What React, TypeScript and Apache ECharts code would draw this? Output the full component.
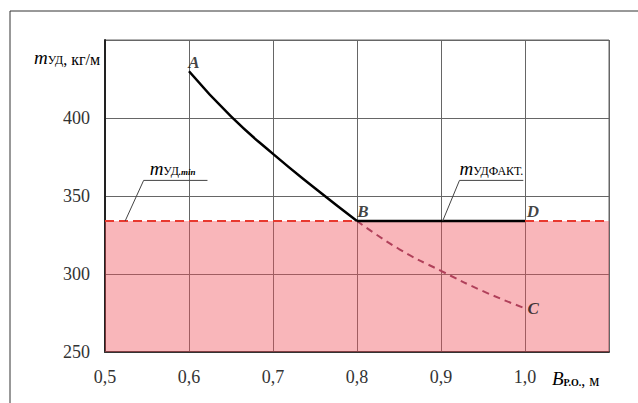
import React, { useEffect, useRef } from "react";
import * as echarts from "echarts";

const xMin = 0.5;
const xMax = 1.1;
const xStep = 0.1;
const yMin = 250;
const yMax = 450;
const yStep = 50;

const curveAB_x = [0.6, 0.65, 0.7, 0.75, 0.8];
const curveAB_y = [430, 401, 377, 355, 334];
const lineBD_x = [0.8, 0.9, 1.0];
const lineBD_y = [334, 334, 334];
const curveBC_x = [0.8, 0.85, 0.9, 0.95, 1.0];
const curveBC_y = [334, 316, 302, 289, 278];
const mMin = 334;

const pointNames = ["A", "B", "C", "D"];
const pointX = [0.6, 0.8, 1.0, 1.0];
const pointY = [430, 334, 278, 334];

const SERIF = "'Liberation Serif', 'Times New Roman', serif";
const TXT = "#333";

export default function App() {
  const ref = useRef<HTMLDivElement>(null);
  useEffect(() => {
    if (!ref.current) return;
    const chart = echarts.init(ref.current, null, { renderer: "svg" });
    const ptPos: any[] = ["top", "top", "right", "top"];
    const ptOff = [
      [5, 5],
      [6, 5],
      [-3, 0],
      [8, 5],
    ];
    const pts = pointNames.map((n, i) => ({
      value: [pointX[i], pointY[i]],
      name: n,
      label: {
        show: true,
        formatter: n,
        position: ptPos[i],
        offset: ptOff[i],
        fontFamily: SERIF,
        fontStyle: "italic",
        fontWeight: "bold",
        fontSize: 17,
        color: "#111",
      },
    }));
    chart.setOption({
      animation: false,
      textStyle: { fontFamily: SERIF },
      grid: {
        left: 105,
        top: 40,
        right: 29,
        bottom: 51,
        show: true,
        borderColor: "#666",
        borderWidth: 1,
      },
      xAxis: {
        type: "value",
        min: xMin,
        max: xMax,
        interval: xStep,
        axisLine: { show: true, onZero: false, lineStyle: { color: "#333", width: 2 } },
        axisTick: { show: false },
        splitLine: { show: true, lineStyle: { color: "#666", width: 1 } },
        axisLabel: {
          margin: 16,
          fontFamily: SERIF,
          fontSize: 18,
          color: TXT,
          formatter: (v: number) => (v > 1.05 ? "" : v.toFixed(1).replace(".", ",")),
        },
      },
      yAxis: {
        type: "value",
        min: yMin,
        max: yMax,
        interval: yStep,
        axisLine: { show: true, lineStyle: { color: "#222", width: 2 } },
        axisTick: { show: false },
        splitLine: { show: true, lineStyle: { color: "#666", width: 1 } },
        axisLabel: {
          margin: 15,
          fontFamily: SERIF,
          fontSize: 18,
          color: TXT,
          formatter: (v: number) => (v >= yMax ? "" : String(v)),
        },
      },
      series: [
        {
          type: "line",
          data: [
            [xMin, mMin],
            [xMax, mMin],
          ],
          symbol: "none",
          z: 3,
          lineStyle: { color: "#E8392F", width: 2, type: [9, 5] },
          markArea: {
            silent: true,
            itemStyle: { color: "rgba(240,80,90,0.42)" },
            data: [[{ yAxis: yMin }, { yAxis: mMin }]],
          },
        },
        {
          type: "line",
          data: curveBC_x.map((x, i) => [x, curveBC_y[i]]),
          smooth: 0.5,
          symbol: "none",
          z: 4,
          lineStyle: { color: "#B0405A", width: 2, type: [7, 5] },
        },
        {
          type: "line",
          data: curveAB_x.map((x, i) => [x, curveAB_y[i]]),
          smooth: 0.5,
          symbol: "none",
          z: 5,
          lineStyle: { color: "#000", width: 2.5 },
        },
        {
          type: "line",
          data: lineBD_x.map((x, i) => [x, lineBD_y[i]]),
          symbol: "none",
          z: 5,
          lineStyle: { color: "#000", width: 2.5 },
        },
        {
          type: "scatter",
          data: pts,
          symbolSize: 1,
          itemStyle: { color: "transparent" },
          z: 6,
        },
      ],
    });

    const px = (x: number, y: number) => chart.convertToPixel({ gridIndex: 0 }, [x, y]) as number[];
    const l1a = px(0.524, mMin);
    const l1b = px(0.546, 360);
    const l1c = px(0.622, 360);
    const l2a = px(0.902, mMin);
    const l2b = px(0.922, 360);
    const l2c = px(0.998, 360);

    const rich = {
      m: { fontFamily: SERIF, fontStyle: "italic", fontSize: 19, color: TXT, verticalAlign: "bottom" },
      s: { fontFamily: SERIF, fontSize: 12, color: TXT, verticalAlign: "bottom", padding: [0, 0, 1, 0] },
      p: { fontFamily: SERIF, fontWeight: "bold", fontSize: 10, color: TXT, verticalAlign: "bottom", padding: [0, 0, 1, 0] },
      t: { fontFamily: SERIF, fontStyle: "italic", fontWeight: "bold", fontSize: 9, color: TXT, verticalAlign: "bottom", padding: [0, 0, 2, 0] },
      n: { fontFamily: SERIF, fontSize: 16, color: TXT, verticalAlign: "bottom" },
    };

    chart.setOption({
      graphic: [
        {
          type: "rect",
          shape: { x: 10, y: 11, width: 700, height: 500 },
          style: { fill: "none", stroke: "#333", lineWidth: 1 },
          silent: true,
        },
        {
          type: "polyline",
          shape: { points: [l1a, l1b, l1c] },
          style: { fill: "none", stroke: "#444", lineWidth: 1 },
          z: 10,
        },
        {
          type: "polyline",
          shape: { points: [l2a, l2b, l2c] },
          style: { fill: "none", stroke: "#444", lineWidth: 1 },
          z: 10,
        },
        {
          type: "text",
          x: l1b[0] + 6,
          y: l1b[1] - 2,
          style: { text: "{m|m}{s|УД}{t|.min}", rich, textAlign: "left", textVerticalAlign: "bottom" },
          z: 10,
        },
        {
          type: "text",
          x: l2b[0],
          y: l2b[1] - 2,
          style: { text: "{m|m}{s|УДФАКТ.}", rich, textAlign: "left", textVerticalAlign: "bottom" },
          z: 10,
        },
        {
          type: "text",
          x: 34,
          y: 67,
          style: { text: "{m|m}{s|УД}{n|, кг/м}", rich, textAlign: "left", textVerticalAlign: "bottom" },
          z: 10,
        },
        {
          type: "text",
          x: 552,
          y: 388,
          style: { text: "{m|B}{p|Р.О.}{n|, м}", rich, textAlign: "left", textVerticalAlign: "bottom" },
          z: 10,
        },
      ],
    });
    return () => chart.dispose();
  }, []);
  return (
    <div
      ref={ref}
      style={{ position: "fixed", left: 0, top: 0, width: 638, height: 403, background: "#fff" }}
    />
  );
}
